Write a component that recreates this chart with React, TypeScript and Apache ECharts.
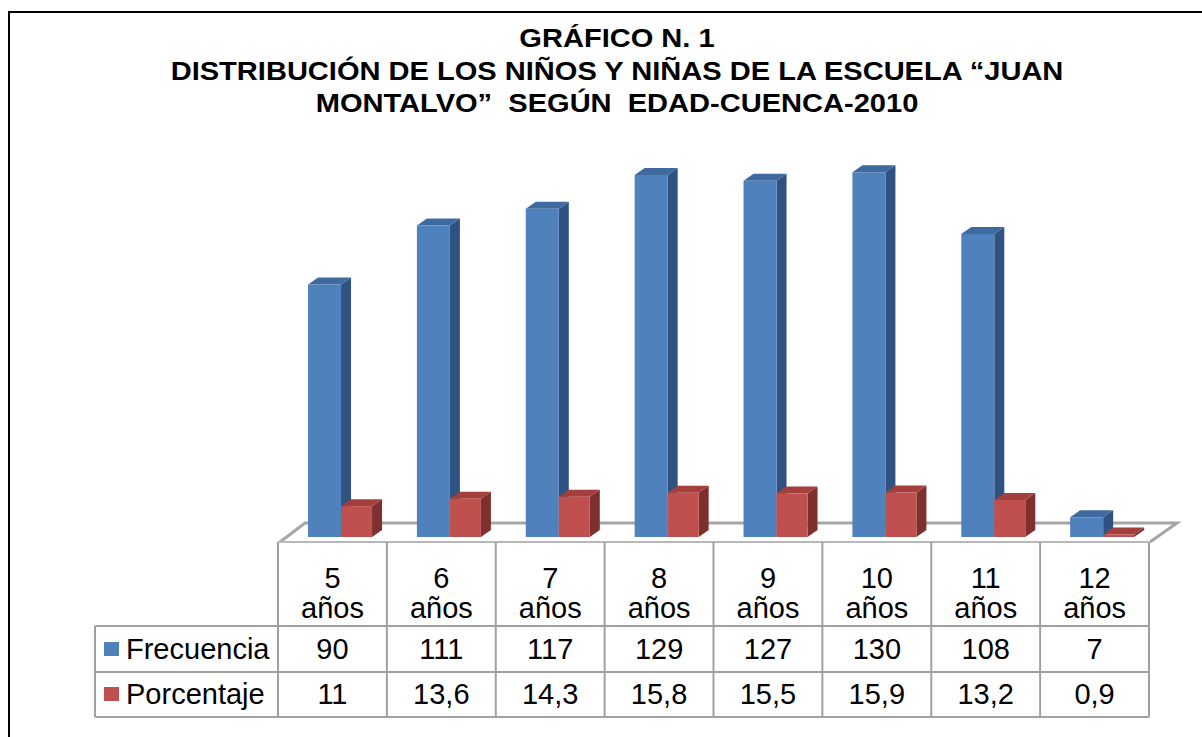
import React, { useEffect, useRef } from 'react';
import * as echarts from 'echarts';

const categories = ['5 años', '6 años', '7 años', '8 años', '9 años', '10 años', '11 años', '12 años'];
const frecuencia = [90, 111, 117, 129, 127, 130, 108, 7];
const porcentaje = [11, 13.6, 14.3, 15.8, 15.5, 15.9, 13.2, 0.9];
const seriesNames = ['Frecuencia', 'Porcentaje'];
const titleLines = [
  'GRÁFICO N. 1',
  'DISTRIBUCIÓN DE LOS NIÑOS Y NIÑAS DE LA ESCUELA “JUAN',
  'MONTALVO”  SEGÚN  EDAD-CUENCA-2010',
];

const FONT = '"Liberation Sans", Arial, sans-serif';
const W = 1202;
const H = 737;
const GRID_L = 278;
const GRID_R = 1149;
const BASE_Y = 537;
const Y_MAX = 140;
const PX_PER_UNIT = 2.806;
const GRID_TOP = BASE_Y - Y_MAX * PX_PER_UNIT;
const COL_W = (GRID_R - GRID_L) / categories.length;

const BLUE = { front: '#4F81BD', top: '#3E6A9F', side: '#2F5281' };
const RED = { front: '#C0504D', top: '#A43F3C', side: '#7E302E' };

function makeRender(offL: number, offR: number, colors: { front: string; top: string; side: string }) {
  return (params: any, api: any) => {
    const idx = api.value(0);
    const v = api.value(1);
    const top = api.coord([idx, v]);
    const base = api.coord([idx, 0]);
    const band = api.size([1, 0])[0];
    const k = band / COL_W;
    const cx = top[0];
    const l = cx + offL * k;
    const r = cx + offR * k;
    const yT = top[1];
    const yB = base[1];
    const dx = 10;
    const dy = -7;
    return {
      type: 'group',
      children: [
        { type: 'polygon', shape: { points: [[r, yT], [r + dx, yT + dy], [r + dx, yB + dy], [r, yB]] }, style: { fill: colors.side } },
        { type: 'polygon', shape: { points: [[l, yT], [l + dx, yT + dy], [r + dx, yT + dy], [r, yT]] }, style: { fill: colors.top } },
        { type: 'rect', shape: { x: l, y: yT, width: r - l, height: yB - yT }, style: { fill: colors.front } },
      ],
    };
  };
}

const fmt = (v: number) => String(v).replace('.', ',');

function buildGraphic() {
  const els: any[] = [];
  // outer frame
  els.push({ type: 'line', z: 1, shape: { x1: 9, y1: 12, x2: W, y2: 12 }, style: { stroke: '#000', lineWidth: 2 } });
  els.push({ type: 'line', z: 1, shape: { x1: 9, y1: 11, x2: 9, y2: H }, style: { stroke: '#000', lineWidth: 2 } });
  // title
  const ty = [38, 71, 103];
  titleLines.forEach((t, i) => {
    els.push({
      type: 'text', z: 10, x: 617, y: ty[i], scaleX: 1.14,
      style: { text: t, font: `bold 25.5px ${FONT}`, fill: '#000', textAlign: 'center', textVerticalAlign: 'middle' },
    });
  });
  // floor
  els.push({ type: 'polyline', z: 0, shape: { points: [[280, 542], [305, 523], [1177, 523], [1150, 542]] }, style: { stroke: '#A6A6A6', lineWidth: 3, fill: null } });
  // table lines
  const grey = '#A0A0A0';
  els.push({ type: 'line', z: 5, shape: { x1: 278, y1: 542, x2: GRID_R, y2: 542 }, style: { stroke: '#B8B8B8', lineWidth: 2 } });
  [626, 672, 717].forEach((y) => {
    els.push({ type: 'line', z: 5, shape: { x1: 95, y1: y, x2: GRID_R, y2: y }, style: { stroke: grey, lineWidth: 2 } });
  });
  els.push({ type: 'line', z: 5, shape: { x1: 95, y1: 626, x2: 95, y2: 717 }, style: { stroke: grey, lineWidth: 2 } });
  for (let i = 0; i <= categories.length; i++) {
    const x = GRID_L + i * COL_W;
    els.push({ type: 'line', z: 5, shape: { x1: x, y1: 542, x2: x, y2: 717 }, style: { stroke: grey, lineWidth: 2 } });
  }
  // header texts
  categories.forEach((c, i) => {
    const x = GRID_L + (i + 0.5) * COL_W;
    els.push({
      type: 'text', z: 10, x, y: 593,
      style: { text: c.replace(' ', '\n'), font: `29px ${FONT}`, lineHeight: 30, fill: '#000', textAlign: 'center', textVerticalAlign: 'middle' },
    });
    els.push({
      type: 'text', z: 10, x, y: 649,
      style: { text: fmt(frecuencia[i]), font: `29px ${FONT}`, fill: '#000', textAlign: 'center', textVerticalAlign: 'middle' },
    });
    els.push({
      type: 'text', z: 10, x, y: 694,
      style: { text: fmt(porcentaje[i]), font: `29px ${FONT}`, fill: '#000', textAlign: 'center', textVerticalAlign: 'middle' },
    });
  });
  // legend column
  const legendColors = [BLUE.front, RED.front];
  const legendY = [649, 694];
  seriesNames.forEach((n, i) => {
    els.push({ type: 'rect', z: 10, shape: { x: 104, y: legendY[i] - 7, width: 15, height: 14 }, style: { fill: legendColors[i] } });
    els.push({
      type: 'text', z: 10, x: 126, y: legendY[i],
      style: { text: n, font: `29px ${FONT}`, fill: '#000', textAlign: 'left', textVerticalAlign: 'middle' },
    });
  });
  return els;
}

export default function App() {
  const ref = useRef<HTMLDivElement>(null);
  useEffect(() => {
    if (!ref.current) return;
    const chart = echarts.init(ref.current, null, { renderer: 'svg' });
    chart.setOption({
      animation: false,
      backgroundColor: '#fff',
      grid: { left: GRID_L, right: W - GRID_R, top: GRID_TOP, bottom: H - BASE_Y },
      xAxis: {
        type: 'category',
        data: categories,
        show: false,
        boundaryGap: true,
      },
      yAxis: { type: 'value', min: 0, max: Y_MAX, show: false },
      series: [
        {
          name: seriesNames[0],
          type: 'custom',
          z: 2,
          renderItem: makeRender(-24.4, 8.6, BLUE),
          data: frecuencia.map((v, i) => [i, v]),
          encode: { x: 0, y: 1 },
        },
        {
          name: seriesNames[1],
          type: 'custom',
          z: 3,
          renderItem: makeRender(8.6, 39.6, RED),
          data: porcentaje.map((v, i) => [i, v]),
          encode: { x: 0, y: 1 },
        },
      ],
      graphic: buildGraphic(),
    });
    return () => chart.dispose();
  }, []);
  return <div ref={ref} style={{ position: 'fixed', left: 0, top: 0, width: W, height: H, background: '#fff' }} />;
}
